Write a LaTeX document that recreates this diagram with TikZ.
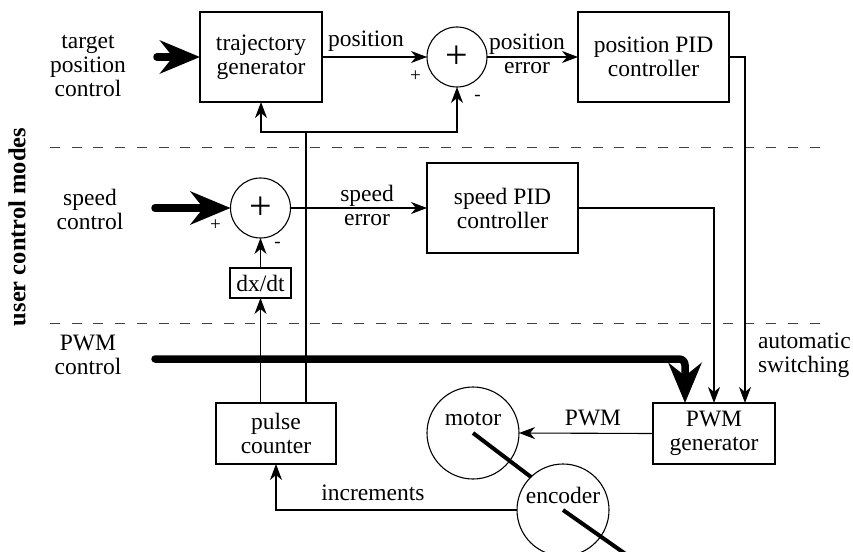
\documentclass[tikz,border=0pt]{standalone}
\usepackage{fontspec}
\setmainfont{Liberation Serif}
\usetikzlibrary{arrows.meta,calc}
\begin{document}
\begin{tikzpicture}[x=1pt,y=-1pt,
  every node/.style={inner sep=0pt, outer sep=0pt, align=center,
    font=\fontsize{23.5}{24}\selectfont},
  blk/.style={draw, rectangle, line width=1.1pt},
  sumc/.style={draw, circle, minimum size=60pt, line width=1.1pt,
    font=\fontsize{40}{40}\selectfont},
  bigc/.style={draw, circle, minimum size=92pt, line width=1.1pt},
  sgn/.style={font=\fontsize{19}{19}\selectfont},
  wire/.style={line width=1.1pt},
  arr/.style={wire, -{Stealth[length=16pt,width=12pt,inset=5pt]}},
  fat/.style={line width=7.5pt, line cap=round,
    -{Stealth[length=40pt,width=33pt,inset=13pt]}},
  shaft/.style={line width=4pt},
  sep/.style={line width=1pt, black!75, dash pattern=on 10pt off 11.7pt},
]
\useasboundingbox (0,0) rectangle (853,551);

% separators
\coordinate (d1a) at (50,147); \coordinate (d1b) at (820,147);
\coordinate (d2a) at (50,323); \coordinate (d2b) at (820,323);
\draw[sep] (d1a) -- (d1b);
\draw[sep] (d2a) -- (d2b);
\node[rotate=90, font=\fontsize{24.5}{24}\selectfont\bfseries] (ucm) at (17,227) {user control modes};

% blocks
\node[blk, minimum width=122pt, minimum height=90pt] (tg) at (261,57) {trajectory\\generator};
\node[sumc] (s1) at (457,57) {+};
\node[blk, minimum width=151pt, minimum height=90pt] (ppid) at (653.5,57) {position PID\\controller};
\node[sumc] (s2) at (260.5,208) {+};
\node[blk, minimum width=151pt, minimum height=90pt] (spid) at (502.5,208) {speed PID\\controller};
\node[blk, minimum width=61pt, minimum height=30pt] (dxdt) at (260.5,283) {dx/dt};
\node[blk, minimum width=120pt, minimum height=61pt] (pc) at (276,433.5) {pulse\\counter};
\node[blk, minimum width=122pt, minimum height=61pt] (pwmg) at (714,433.5) {PWM\\generator};
\node[bigc] (motor) at (473,433) {};
\node[bigc] (enc) at (563,510) {};
\node[anchor=base] (motort) at (473,425) {motor};
\node[anchor=base] (enct) at (563,503) {encoder};

% input labels
\node (tpc) at (88,66) {target\\position\\control};
\node (spc) at (90,209) {speed\\control};
\node (pwc) at (88,355) {PWM\\control};
\node[anchor=west, align=left] (auto) at (758,355) {automatic\\switching};

% signs
\node[sgn] (p1) at (415.5,76) {+};
\node[sgn] (m1) at (477.5,98) {-};
\node[sgn] (p2) at (215.5,225) {+};
\node[sgn] (m2) at (277.5,245) {-};

% thick user inputs
\coordinate (tin) at (157,57);
\coordinate (sin) at (155,208);
\coordinate (pin) at (155,359);
\draw[fat] (tin) -- (tg.west);
\draw[fat] (sin) -- (s2.west);
\draw[fat, rounded corners=6pt] (pin) -| ([xshift=-29pt]pwmg.north);

% signal flow
\draw[arr] (tg.east) -- (s1.west);
\node[anchor=base] (lposition) at (366,47) {position};
\draw[arr] (s1.east) -- (ppid.west);
\node (lperr) at (527,54) {position\\error};
\draw[arr] (s2.east) -- (spid.west);
\node (lserr) at (367,205) {speed\\error};
\draw[arr] (ppid.east) -| ([xshift=31pt]pwmg.north);
\draw[arr] (spid.east) -| (pwmg.north);
\draw[arr] (pwmg.west) -- (motor.east);
\node[anchor=base] (lpwm) at (593,425) {PWM};
\draw[arr] (enc.west) -| (pc.south);
\node[anchor=base] (linc) at (373,500) {increments};
\draw[arr] (dxdt.south |- pc.north) -- (dxdt.south);
\draw[arr] (dxdt.north) -- (s2.south);

% position feedback
\coordinate (fb) at (306,132);
\draw[wire] (fb |- pc.north) -- (fb);
\draw[arr] (fb) -| (tg.south);
\draw[arr] (fb) -| (s1.south);

% shafts
\draw[shaft] (motor.center) -- (531,477);
\draw[shaft] (enc.center) -- (627,555);
\end{tikzpicture}
\end{document}
